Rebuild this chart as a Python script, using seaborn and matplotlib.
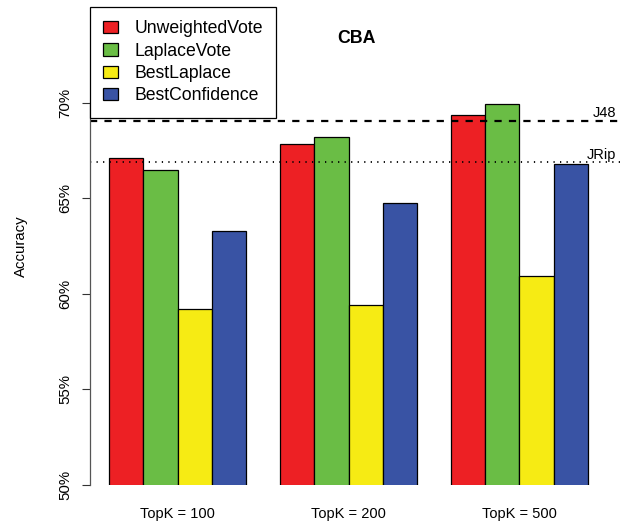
import pandas as pd
import matplotlib
matplotlib.use("Agg")
import matplotlib.pyplot as plt
import seaborn as sns

# values (accuracy in %)
topk = ["TopK = 100", "TopK = 200", "TopK = 500"]
methods = ["UnweightedVote", "LaplaceVote", "BestLaplace", "BestConfidence"]
unweighted_vote = [67.12, 67.83, 69.37]
laplace_vote = [66.46, 68.20, 69.95]
best_laplace = [59.23, 59.43, 60.94]
best_confidence = [63.28, 64.73, 66.81]
j48_acc = 69.04
jrip_acc = 66.89
colors = ["#ED2024", "#6ABD45", "#F6EB14", "#3953A4"]

df = pd.DataFrame({
    "TopK": topk * 4,
    "Method": [m for m in methods for _ in topk],
    "Accuracy": unweighted_vote + laplace_vote + best_laplace + best_confidence,
})

sns.set_theme(style="white")
plt.rcParams["font.family"] = ["Liberation Sans", "DejaVu Sans"]
plt.rcParams["lines.scale_dashes"] = False
plt.rcParams["text.color"] = "black"
plt.rcParams["axes.labelcolor"] = "black"
plt.rcParams["xtick.color"] = "black"
plt.rcParams["ytick.color"] = "black"

fig = plt.figure(figsize=(6.22, 5.24), dpi=100)
ax = fig.add_axes([0.1447, 0.0744, 0.8553, 0.9122])

sns.barplot(data=df, x="TopK", y="Accuracy", hue="Method", hue_order=methods,
            palette=colors, errorbar=None, width=0.8, saturation=1,
            edgecolor="black", linewidth=0.9, ax=ax)

ax.set_xlim(-0.513, 2.6)
ax.set_ylim(50, 75)

# reference lines
ax.axhline(j48_acc, color="black", lw=1.6, dashes=(5.2, 5.2))
ax.axhline(jrip_acc, color="black", lw=1.3, dashes=(0.9, 3.8))
trans = ax.get_yaxis_transform()
ax.text(0.989, j48_acc + 0.2, "J48", transform=trans, ha="right", va="baseline", fontsize=10.5)
ax.text(0.989, jrip_acc + 0.18, "JRip", transform=trans, ha="right", va="baseline", fontsize=10.5)

ax.text(0.5, 0.934, "CBA", transform=ax.transAxes, ha="center", va="center",
        fontsize=12.8, fontweight="bold")

# axes styling, R base graphics look
for side in ["top", "right", "bottom"]:
    ax.spines[side].set_visible(False)
ax.spines["left"].set_bounds(50, 70)
ax.spines["left"].set_color("#555555")
ax.spines["left"].set_linewidth(0.9)

ax.set_yticks([50, 55, 60, 65, 70])
ax.set_yticklabels(["50%", "55%", "60%", "65%", "70%"], rotation=90, va="center")
ax.tick_params(axis="y", left=True, length=6, width=0.8, color="#333333", pad=7, labelsize=10.8)
ax.tick_params(axis="x", bottom=False, length=0, pad=15.5, labelsize=10.5)
ax.set_xlabel("")
ax.set_ylabel("Accuracy", fontsize=10.8)
ax.yaxis.set_label_coords(-0.1175, 0.5)

handles, labels = ax.get_legend_handles_labels()
leg = ax.legend(handles, labels, loc="upper left", bbox_to_anchor=(0, 1), borderaxespad=0,
                fontsize=12.7, frameon=True, fancybox=False, framealpha=1,
                edgecolor="black", handlelength=0.8, handleheight=0.68,
                handletextpad=0.95, labelspacing=0.3, borderpad=0.76)
leg.get_frame().set_linewidth(0.9)

fig.savefig("out.png", dpi=100)
